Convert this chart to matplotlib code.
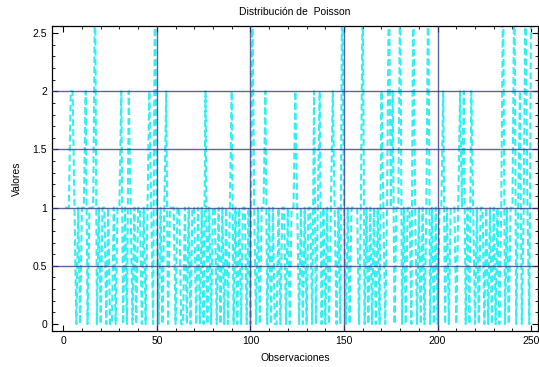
import numpy as np
import matplotlib
matplotlib.use("Agg")
import matplotlib.pyplot as plt
from matplotlib.ticker import MultipleLocator

plt.rcParams['font.family'] = ['Liberation Sans', 'DejaVu Sans']

# Valores (observaciones 1..250)
valores = [
    1, 1, 1, 2, 2, 1, 0, 1, 0, 1, 1, 2, 0, 1, 1, 1, 3, 0, 1, 0,
    1, 1, 0, 1, 0, 0, 1, 0, 1, 1, 2, 0, 1, 0, 2, 1, 0, 1, 0, 1,
    1, 0, 1, 0, 1, 2, 1, 0, 3, 1, 0, 1, 0, 1, 2, 0, 1, 1, 1, 0,
    1, 1, 0, 0, 1, 0, 1, 0, 1, 1, 0, 1, 0, 1, 0, 2, 0, 1, 0, 1,
    1, 0, 1, 0, 1, 0, 1, 0, 1, 2, 0, 1, 0, 1, 0, 1, 1, 0, 1, 0,
    3, 1, 0, 1, 0, 1, 1, 2, 0, 1, 0, 1, 0, 0, 1, 0, 1, 1, 0, 1,
    0, 1, 1, 2, 1, 0, 1, 0, 1, 0, 1, 1, 0, 2, 0, 1, 2, 0, 1, 0,
    1, 0, 1, 2, 1, 0, 1, 0, 3, 1, 0, 1, 0, 1, 1, 1, 1, 0, 1, 3,
    0, 1, 0, 1, 0, 1, 0, 1, 0, 2, 1, 0, 1, 3, 1, 2, 0, 1, 1, 3,
    0, 1, 0, 1, 1, 0, 3, 1, 0, 1, 0, 1, 0, 1, 3, 0, 1, 0, 1, 0,
    1, 1, 2, 0, 1, 0, 1, 1, 1, 0, 1, 2, 1, 2, 0, 1, 0, 2, 1, 0,
    1, 0, 1, 1, 0, 1, 0, 1, 0, 1, 0, 1, 0, 1, 3, 0, 1, 0, 1, 1,
    3, 0, 1, 2, 0, 1, 3, 1, 0, 3,
]
observaciones = np.arange(1, len(valores) + 1)

fig = plt.figure(figsize=(5.39, 3.67), dpi=100)
ax = fig.add_axes([0.0965, 0.098, 0.9015, 0.831])

ax.plot(observaciones, valores, color='#33f0f0', linestyle=(0, (3.2, 1.6)),
        linewidth=1.5)

ax.set_xlim(-6, 253.6)
ax.set_ylim(-0.06, 2.56)

ax.xaxis.set_major_locator(MultipleLocator(50))
ax.xaxis.set_minor_locator(MultipleLocator(10))
ax.yaxis.set_major_locator(MultipleLocator(0.5))
ax.yaxis.set_minor_locator(MultipleLocator(0.1))
ax.set_yticks([0, 0.5, 1, 1.5, 2, 2.5])
ax.set_yticklabels(['0', '0.5', '1', '1.5', '2', '2.5'])

ax.tick_params(which='both', direction='in', top=True, right=True,
               labelsize=7.5, colors='black')
ax.tick_params(which='major', length=4, width=0.8)
ax.tick_params(which='minor', length=2.5, width=0.6)

# rejilla solo en las lineas interiores
for xv in [50, 100, 150, 200]:
    ax.axvline(xv, color='#3a3a8c', linewidth=1.0, zorder=3, alpha=0.8)
for yv in [0.5, 1, 1.5, 2]:
    ax.axhline(yv, color='#3a3a8c', linewidth=1.0, zorder=3, alpha=0.8)

for s in ax.spines.values():
    s.set_linewidth(0.9)

ax.set_title('Distribución de  Poisson', fontsize=7.5, pad=8)
ax.set_xlabel('Observaciones', fontsize=7.5, labelpad=5)
ax.set_ylabel('Valores', fontsize=7.5, labelpad=8)

fig.savefig('out.png', dpi=100)
